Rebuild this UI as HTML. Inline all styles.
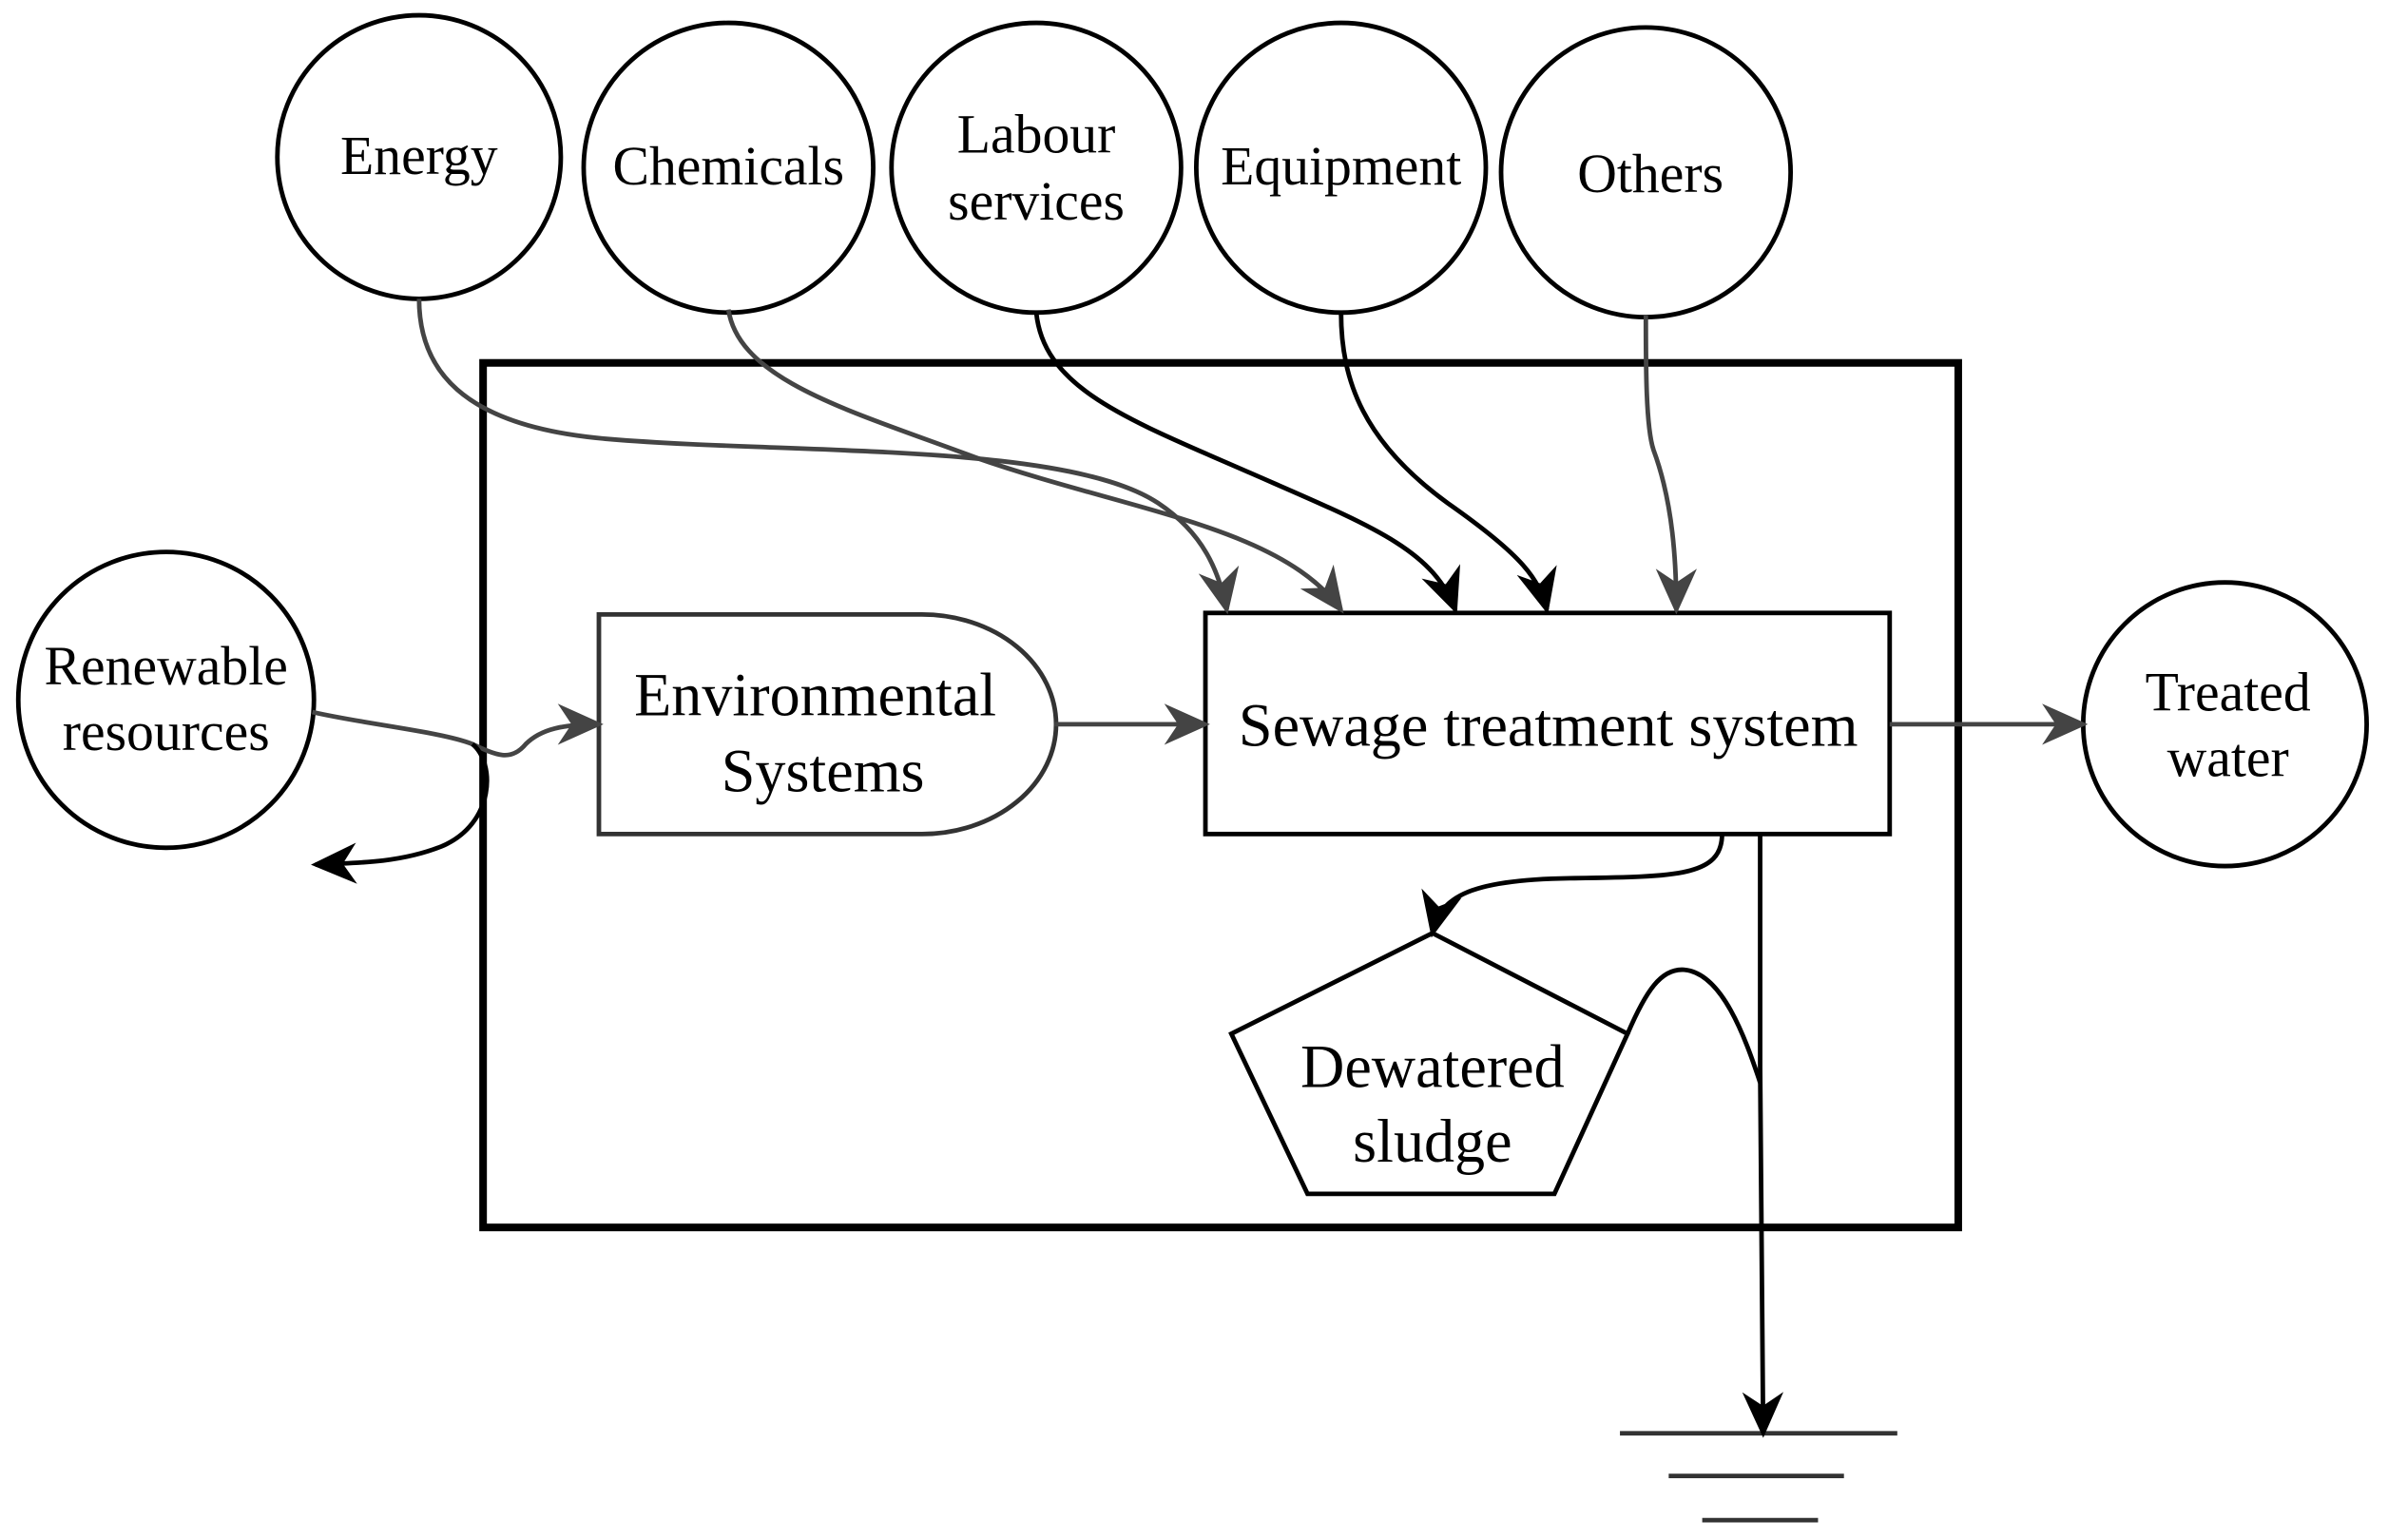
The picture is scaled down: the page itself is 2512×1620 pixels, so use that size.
<!DOCTYPE html>
<html><head><meta charset="utf-8"><style>html,body{margin:0;padding:0;background:#fff}svg{display:block}</style></head>
<body>
<svg width="2512" height="1620" viewBox="0 0 1567 1010" preserveAspectRatio="none" xmlns="http://www.w3.org/2000/svg">
<defs>
<marker id="A" viewBox="0 0 10 10" refX="9" refY="5" markerWidth="30" markerHeight="30" markerUnits="userSpaceOnUse" orient="auto"><path d="M0,0.5 L10,5 L0,9.5 L3,5 Z" fill="#444"/></marker>
<marker id="B" viewBox="0 0 10 10" refX="9" refY="5" markerWidth="30" markerHeight="30" markerUnits="userSpaceOnUse" orient="auto"><path d="M0,0.5 L10,5 L0,9.5 L3,5 Z" fill="#000"/></marker>
</defs>
<g fill="none" stroke="#000" stroke-width="3">
<circle cx="275" cy="103" r="93"/>
<circle cx="478" cy="110" r="95"/>
<circle cx="680" cy="110" r="95"/>
<circle cx="880" cy="110" r="95"/>
<circle cx="1080" cy="113" r="95"/>
<circle cx="109" cy="459" r="97"/>
<circle cx="1460" cy="475" r="93"/>
<rect x="317" y="238" width="968" height="567" stroke-width="5"/>
<path d="M393,403 H605 A88,72 0 0 1 605,547 H393 Z" stroke="#333"/>
<rect x="791" y="402" width="449" height="145"/>
<path d="M940,612 L1068,678 L1020,783 L858,783 L808,678 Z"/>
<line x1="1063" y1="940" x2="1245" y2="940" stroke="#333"/>
<line x1="1095" y1="968" x2="1210" y2="968" stroke="#333"/>
<line x1="1117" y1="997" x2="1193" y2="997" stroke="#333"/>
</g>
<g fill="none" stroke-width="3">
<path d="M275,196 C275,240 300,280 400,288 C520,298 700,290 760,330 C790,350 800,375 805,400" stroke="#444" marker-end="url(#A)"/>
<path d="M478,203 C485,250 560,270 640,300 C740,335 840,345 880,400" stroke="#444" marker-end="url(#A)"/>
<path d="M680,205 C685,255 740,275 820,310 C900,345 940,360 955,400" stroke="#000" marker-end="url(#B)"/>
<path d="M880,205 C880,250 895,290 950,330 C1000,365 1010,380 1015,400" stroke="#000" marker-end="url(#B)"/>
<path d="M1080,207 C1080,240 1080,280 1085,295 C1098,330 1100,370 1100,400" stroke="#444" marker-end="url(#A)"/>
<path d="M692,475 H791" stroke="#444" marker-end="url(#A)"/>
<path d="M1240,475 H1367" stroke="#444" marker-end="url(#A)"/>
<path d="M205,467 C240,475 290,480 310,488 C325,495 335,500 345,488 C355,478 370,475 393,475" stroke="#444" marker-end="url(#A)"/>
<path d="M310,488 C325,500 325,540 290,555 C265,565 240,566 207,567" stroke="#000" marker-end="url(#B)"/>
<path d="M1130,547 C1130,575 1100,575 1030,576 C960,577 945,590 940,612" stroke="#000" marker-end="url(#B)"/>
<path d="M1155,547 L1155,700 L1157,940" stroke="#000" marker-end="url(#B)"/>
<path d="M1068,678 C1080,650 1090,635 1105,636 C1130,638 1145,680 1155,710" stroke="#000"/>
</g>
<g font-family="Liberation Serif, serif" font-size="36" text-anchor="middle" fill="#000">
<text x="275" y="114">Energy</text>
<text x="478" y="121">Chemicals</text>
<text x="680" y="100">Labour</text>
<text x="680" y="144">services</text>
<text x="880" y="121">Equipment</text>
<text x="1083" y="126">Others</text>
<text x="109" y="449">Renewable</text>
<text x="109" y="492">resources</text>
<text x="1462" y="466">Treated</text>
<text x="1462" y="509">water</text>
<text x="535" y="469" font-size="40">Environmental</text>
<text x="540" y="519" font-size="40">Systems</text>
<text x="1016" y="489" font-size="40">Sewage treatment system</text>
<text x="940" y="713" font-size="40">Dewatered</text>
<text x="940" y="762" font-size="40">sludge</text>
</g>
</svg>
</body></html>
